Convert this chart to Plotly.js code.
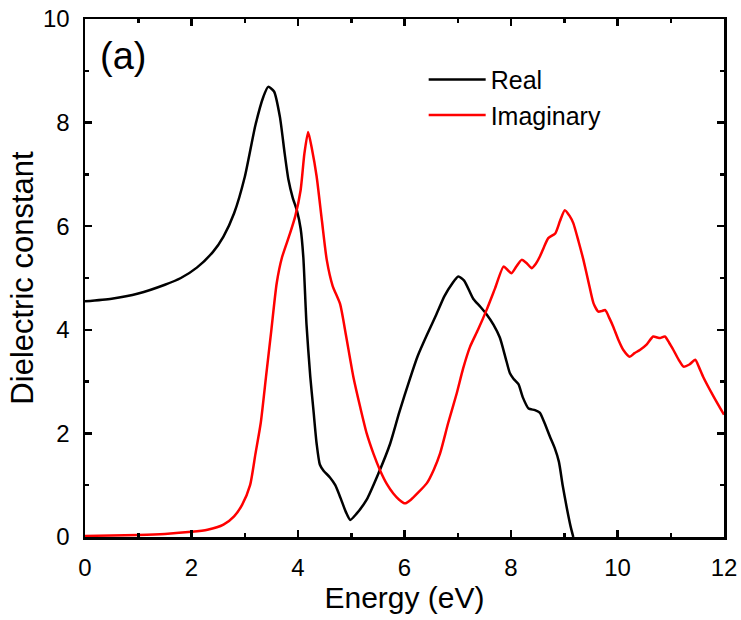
<!DOCTYPE html>
<html>
<head>
<meta charset="utf-8">
<script src="https://cdn.plot.ly/plotly-3.0.1.min.js"></script>
<style>html,body{margin:0;padding:0;background:#fff;}#chart{width:741px;height:620px;}</style>
</head>
<body>
<div id="chart"></div>
<script>
const realE = [0, 0.5, 1.0, 1.5, 1.8, 2.1, 2.4, 2.6, 2.8, 3.0, 3.2, 3.35, 3.44, 3.55, 3.66, 3.75, 3.82, 3.9, 3.98, 4.05, 4.1, 4.16, 4.23, 4.29, 4.35, 4.41, 4.48, 4.6, 4.7, 4.8, 4.9, 4.98, 5.1, 5.29, 5.5, 5.73, 5.9, 6.1, 6.25, 6.42, 6.6, 6.75, 6.9, 7.01, 7.12, 7.29, 7.42, 7.54, 7.67, 7.79, 7.9, 7.98, 8.05, 8.14, 8.22, 8.33, 8.45, 8.54, 8.63, 8.73, 8.82, 8.9, 8.97, 9.05, 9.12, 9.17];
const realV = [4.55, 4.6, 4.7, 4.87, 5.0, 5.2, 5.5, 5.8, 6.25, 6.95, 7.95, 8.5, 8.69, 8.6, 8.11, 7.4, 6.9, 6.55, 6.3, 5.95, 5.4, 4.1, 3.1, 2.45, 1.8, 1.4, 1.28, 1.15, 1.0, 0.75, 0.48, 0.33, 0.45, 0.72, 1.2, 1.8, 2.4, 3.05, 3.5, 3.9, 4.3, 4.65, 4.9, 5.03, 4.95, 4.6, 4.45, 4.3, 4.1, 3.85, 3.45, 3.16, 3.05, 2.95, 2.7, 2.48, 2.45, 2.4, 2.2, 1.94, 1.72, 1.45, 1.0, 0.55, 0.2, 0.0];

const imagE = [0, 0.5, 1.0, 1.5, 2.0, 2.3, 2.6, 2.8, 2.95, 3.1, 3.2, 3.3, 3.4, 3.5, 3.6, 3.7, 3.85, 3.95, 4.05, 4.12, 4.19, 4.26, 4.35, 4.45, 4.54, 4.65, 4.79, 4.9, 5.04, 5.17, 5.29, 5.42, 5.54, 5.67, 5.79, 5.9, 6.01, 6.12, 6.25, 6.42, 6.55, 6.67, 6.82, 6.98, 7.1, 7.23, 7.38, 7.54, 7.7, 7.86, 7.94, 8.01, 8.1, 8.2, 8.3, 8.39, 8.47, 8.54, 8.62, 8.7, 8.83, 8.92, 9.01, 9.1, 9.17, 9.27, 9.36, 9.46, 9.55, 9.64, 9.7, 9.77, 9.85, 9.92, 10.02, 10.11, 10.23, 10.32, 10.42, 10.55, 10.67, 10.75, 10.8, 10.89, 10.97, 11.05, 11.15, 11.24, 11.35, 11.46, 11.53, 11.61, 11.8, 12.0];
const imagV = [0.02, 0.03, 0.04, 0.06, 0.1, 0.14, 0.24, 0.4, 0.62, 1.0, 1.6, 2.2, 3.1, 4.0, 4.9, 5.4, 5.86, 6.2, 6.7, 7.4, 7.82, 7.5, 6.96, 6.1, 5.35, 4.85, 4.5, 3.9, 3.09, 2.5, 2.0, 1.6, 1.29, 1.02, 0.84, 0.72, 0.65, 0.72, 0.85, 1.04, 1.3, 1.62, 2.2, 2.77, 3.25, 3.67, 4.0, 4.38, 4.8, 5.22, 5.15, 5.09, 5.22, 5.35, 5.28, 5.19, 5.28, 5.41, 5.6, 5.77, 5.86, 6.1, 6.31, 6.2, 6.06, 5.7, 5.35, 4.9, 4.51, 4.35, 4.36, 4.38, 4.22, 4.06, 3.8, 3.61, 3.48, 3.55, 3.61, 3.72, 3.87, 3.85, 3.84, 3.87, 3.75, 3.61, 3.42, 3.29, 3.33, 3.42, 3.28, 3.09, 2.72, 2.36];

const xTicks = [0, 2, 4, 6, 8, 10, 12];
const yTicks = [0, 2, 4, 6, 8, 10];
const seriesNames = ["Real", "Imaginary"];

const font = "Liberation Sans, Arial, sans-serif";
const axisCommon = {
  showgrid: false, zeroline: false, showline: true, mirror: 'ticks',
  linecolor: '#000', linewidth: 2.5, ticks: 'inside', ticklen: 7, tickwidth: 2.5,
  tickcolor: '#000', tickmode: 'array',
  tickfont: {family: font, size: 24, color: '#000'}
};
const minorTicks = {ticks: 'inside', ticklen: 4, tickwidth: 2.5, tickcolor: '#000', dtick: 1, tick0: 0};

const data = [
  {x: realE, y: realV, name: seriesNames[0], mode: 'lines', line: {color: '#000', width: 2.5, shape: 'spline', smoothing: 0.6}},
  {x: imagE, y: imagV, name: seriesNames[1], mode: 'lines', line: {color: '#ff0000', width: 2.5, shape: 'spline', smoothing: 0.6}}
];

const layout = {
  width: 741, height: 620,
  margin: {l: 85, r: 17, t: 19, b: 83},
  paper_bgcolor: '#fff', plot_bgcolor: '#fff',
  showlegend: true,
  legend: {x: 0.53, y: 0.927, xanchor: 'left', yanchor: 'top', bgcolor: 'rgba(0,0,0,0)', itemwidth: 57,
           font: {family: font, size: 25, color: '#000'}, tracegroupgap: 0},
  xaxis: Object.assign({}, axisCommon, {range: [0, 12], tickvals: xTicks, ticktext: xTicks.map(String),
    minor: minorTicks, ticklabelstandoff: 8,
    title: {text: 'Energy (eV)', font: {family: font, size: 30, color: '#000'}, standoff: 3}}),
  yaxis: Object.assign({}, axisCommon, {range: [0, 10], tickvals: yTicks, ticktext: yTicks.map(String),
    minor: minorTicks, ticklabelstandoff: 8,
    title: {text: 'Dielectric constant', font: {family: font, size: 31, color: '#000'}, standoff: 0}}),
  annotations: [{text: '(a)', xref: 'paper', yref: 'paper', x: 0.02, y: 0.928, xanchor: 'left', yanchor: 'middle',
    showarrow: false, font: {family: font, size: 38, color: '#000'}}]
};

Plotly.newPlot('chart', data, layout, {displayModeBar: false, staticPlot: true});
</script>
</body>
</html>
